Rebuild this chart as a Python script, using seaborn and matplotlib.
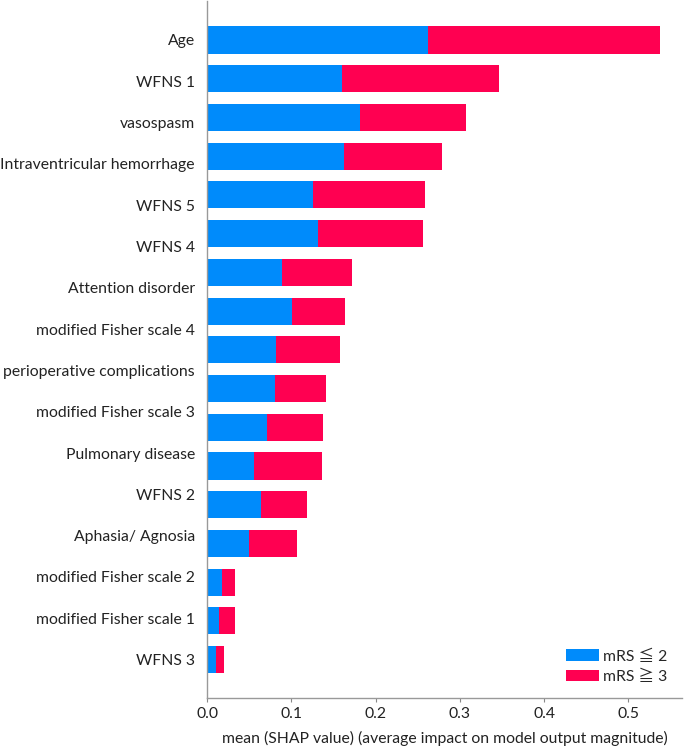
import matplotlib
matplotlib.use('Agg')
import matplotlib.pyplot as plt
import numpy as np
import pandas as pd
import seaborn as sns

sns.set_style('white')
plt.rcParams['font.family'] = ['Lato', 'Noto Sans CJK JP', 'DejaVu Sans']

# feature labels as printed on the left (16 of them)
features = ['Age', 'WFNS 1', 'vasospasm', 'Intraventricular hemorrhage', 'WFNS 5',
            'WFNS 4', 'Attention disorder', 'modified Fisher scale 4',
            'perioperative complications', 'modified Fisher scale 3',
            'Pulmonary disease', 'WFNS 2', 'Aphasia/ Agnosia',
            'modified Fisher scale 2', 'modified Fisher scale 1', 'WFNS 3']

# mean |SHAP| per bar (17 bars drawn), class mRS <= 2 and mRS >= 3
good = [0.262, 0.160, 0.181, 0.162, 0.126, 0.132, 0.089, 0.101, 0.082,
        0.080, 0.071, 0.055, 0.064, 0.050, 0.017, 0.014, 0.010]
poor = [0.276, 0.187, 0.126, 0.117, 0.133, 0.124, 0.083, 0.063, 0.076,
        0.061, 0.066, 0.081, 0.054, 0.057, 0.016, 0.019, 0.010]

BLUE = '#008bfb'
RED = '#ff0051'
FS = 11.3

df = pd.DataFrame({'bar': [f'b{i}' for i in range(len(good))],
                   'good': good, 'poor': poor})
df['total'] = df['good'] + df['poor']

fig = plt.figure(figsize=(6.85, 7.5), dpi=100)
ax = fig.add_axes([0.3026, 0.0689, 0.6926, 0.9294])

sns.barplot(data=df, x='total', y='bar', orient='h', color=RED, width=0.7,
            saturation=1, linewidth=0, label='mRS \u2267 3', ax=ax)
sns.barplot(data=df, x='good', y='bar', orient='h', color=BLUE, width=0.7,
            saturation=1, linewidth=0, label='mRS \u2266 2', ax=ax)

ax.set_ylim(len(good), -1)
ax.set_xlim(0, 0.5634)
ax.set_yticks(np.linspace(0, len(good) - 1, len(features)), labels=features)
ax.set_xticks([0.0, 0.1, 0.2, 0.3, 0.4, 0.5])
ax.tick_params(axis='y', length=0, pad=9, labelsize=FS, labelcolor='#222222')
ax.tick_params(axis='x', length=3, width=0.8, color='#888888', labelsize=FS,
               labelcolor='#222222', bottom=True)
ax.set_ylabel('')
ax.set_xlabel('mean (SHAP value) (average impact on model output magnitude)',
              fontsize=FS, color='#222222', labelpad=7)

sns.despine(ax=ax)
for side in ['left', 'bottom']:
    ax.spines[side].set_color('#999999')
    ax.spines[side].set_linewidth(1)

handles, labels = ax.get_legend_handles_labels()
ax.legend(handles[::-1], labels[::-1], loc='lower right', frameon=False,
          fontsize=FS, handlelength=2.1, handleheight=0.75,
          handletextpad=0.3, labelspacing=0.4, borderaxespad=0.5)

fig.savefig('out.png', dpi=100)
